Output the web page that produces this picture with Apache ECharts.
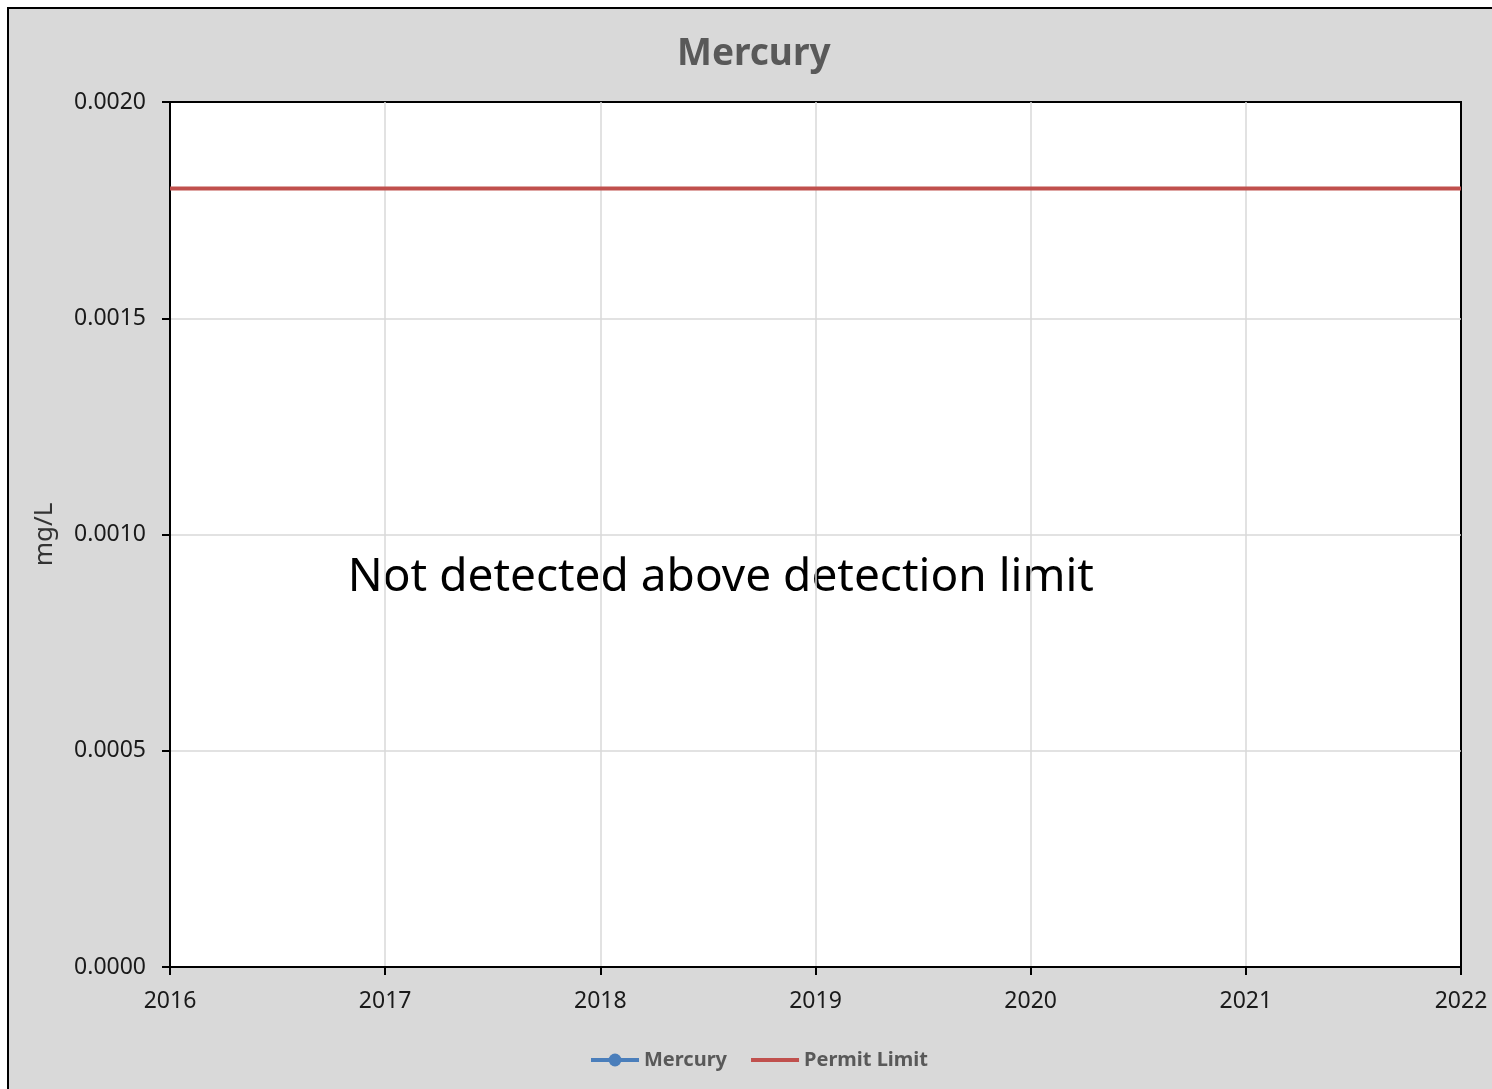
<!DOCTYPE html>
<html>
<head>
<meta charset="utf-8">
<title>Mercury</title>
<script src="https://cdn.jsdelivr.net/npm/echarts@6/dist/echarts.min.js"></script>
<style>
  html, body { margin: 0; padding: 0; background: #ffffff; }
  #chart { width: 1492px; height: 1089px; }
</style>
</head>
<body>
<div id="chart"></div>
<script>
// Sample results (none above the detection limit in this period)
const mercuryPoints = [];
// Permit limit, constant across the period
const permitYears = [2016, 2022];
const permitValues = [0.0018, 0.0018];
// Axis ranges
const xMin = 2016, xMax = 2022, xStep = 1;
const yMin = 0, yMax = 0.002, yStep = 0.0005;
// Note shown in the plot
const noteText = 'Not detected above detection limit';
const notePos = [2018.56, 0.0009];

const FONT = '"Noto Sans", "Open Sans", sans-serif';
const chart = echarts.init(document.getElementById('chart'), null, { renderer: 'canvas' });

const permitData = permitYears.map((y, i) => [y, permitValues[i]]);

const panel = {
  type: 'rect',
  z: -100,
  silent: true,
  shape: { x: 8, y: 8, width: 1500, height: 1100 },
  style: { fill: '#d9d9d9', stroke: '#000000', lineWidth: 2 }
};

chart.setOption({
  backgroundColor: '#ffffff',
  animation: false,
  textStyle: { fontFamily: FONT },
  graphic: [panel],
  title: {
    text: 'Mercury',
    left: 672,
    top: 31,
    textStyle: { fontFamily: FONT, fontSize: 37, fontWeight: 'bold', color: '#595959' }
  },
  legend: {
    bottom: 14,
    left: 584,
    itemWidth: 48,
    itemHeight: 16,
    itemGap: 22,
    lineStyle: { width: 4 },
    textStyle: { fontFamily: FONT, fontSize: 20, fontWeight: 'bold', color: '#595959' },
    data: [
      { name: 'Mercury' },
      { name: 'Permit Limit', itemStyle: { opacity: 0 } }
    ]
  },
  grid: {
    left: 170, right: 31, top: 102, bottom: 122,
    show: true,
    backgroundColor: '#ffffff',
    borderColor: '#000000',
    borderWidth: 2
  },
  xAxis: {
    type: 'value',
    min: xMin, max: xMax, interval: xStep,
    axisLine: { show: true, onZero: false, lineStyle: { color: '#000000', width: 2 } },
    axisTick: { show: true, length: 8, lineStyle: { color: '#000000', width: 2 } },
    axisLabel: { margin: 23, fontSize: 23, color: '#1a1a1a', formatter: v => String(v) },
    splitLine: { show: true, showMinLine: false, showMaxLine: false, lineStyle: { color: '#d9d9d9', width: 1.5 } }
  },
  yAxis: {
    type: 'value',
    min: yMin, max: yMax, interval: yStep,
    name: 'mg/L',
    nameLocation: 'middle',
    nameGap: 112,
    nameRotate: 90,
    nameTextStyle: { fontFamily: FONT, fontSize: 26, color: '#333333' },
    axisLine: { show: true, lineStyle: { color: '#000000', width: 2 } },
    axisTick: { show: true, length: 8, lineStyle: { color: '#000000', width: 2 } },
    axisLabel: { margin: 24, fontSize: 23, color: '#1a1a1a', formatter: v => v.toFixed(4) },
    splitLine: { show: true, showMinLine: false, showMaxLine: false, lineStyle: { color: '#d9d9d9', width: 1.5 } }
  },
  series: [
    {
      name: 'Mercury',
      type: 'line',
      data: mercuryPoints,
      symbol: 'circle',
      symbolSize: 12,
      itemStyle: { color: '#4a7ebb' },
      lineStyle: { color: '#4a7ebb', width: 4 }
    },
    {
      name: 'Permit Limit',
      type: 'line',
      data: permitData,
      symbol: 'none',
      itemStyle: { color: '#c0504d' },
      lineStyle: { color: '#c0504d', width: 4 }
    }
  ]
});

// Place the note at its data position
const notePx = chart.convertToPixel({ gridIndex: 0 }, notePos);
chart.setOption({
  graphic: [panel, {
    type: 'text',
    silent: true,
    x: notePx[0],
    y: notePx[1],
    style: {
      text: noteText,
      fontFamily: FONT,
      fontSize: 46,
      fill: '#000000',
      align: 'center',
      verticalAlign: 'middle'
    }
  }]
});
</script>
</body>
</html>
